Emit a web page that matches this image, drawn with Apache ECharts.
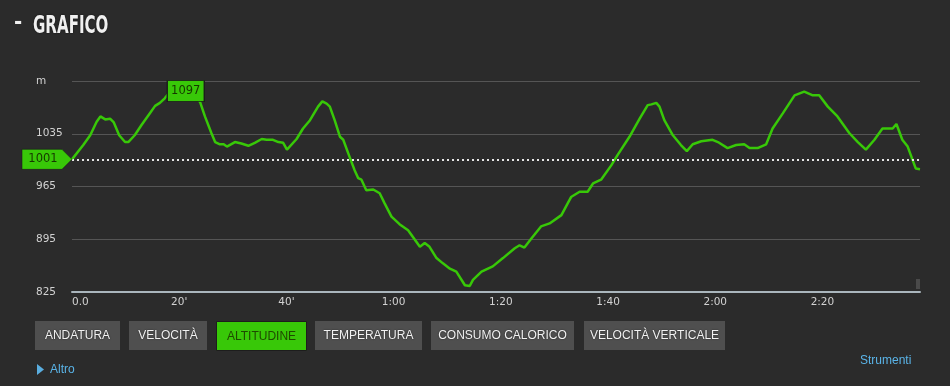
<!DOCTYPE html>
<html>
<head>
<meta charset="utf-8">
<script src="https://cdn.jsdelivr.net/npm/echarts@6/dist/echarts.min.js"></script>
<style>
html,body{margin:0;padding:0;background:#2b2b2b;}
#c{width:950px;height:386px;}
</style>
</head>
<body>
<div id="c"></div>
<script>
// Time (minutes) and altitude (m)
const minutes = [0,2.1,3.4,4.6,5.3,6.2,7.1,7.8,8.8,9.9,10.5,11.7,13.0,14.5,15.5,16.4,17.3,18.1,19.2,20.1,21.2,22.4,23.9,24.8,26.0,26.7,27.6,28.3,28.9,30.4,31.6,32.9,34.1,35.4,36.3,37.5,38.5,39.4,40.1,41.9,43.1,44.4,45.9,46.7,47.5,48.1,49.0,50.0,50.6,51.8,52.7,53.4,54.0,54.9,56.2,57.4,58.3,59.6,61.1,62.7,63.6,64.9,65.8,66.7,68.0,69.2,70.5,71.7,73.3,74.2,74.8,76.4,78.5,80.4,82.6,83.5,84.4,85.7,87.5,89.1,91.3,93.1,94.7,96.2,97.2,98.7,100.6,101.8,104.0,105.9,107.4,108.1,109.0,109.6,110.5,112.1,113.6,114.7,115.8,117.4,119.5,120.5,122.3,123.9,125.4,126.4,127.9,129.5,130.7,132.6,134.8,136.6,138.2,139.4,141.0,142.8,145.0,146.6,148.1,149.7,151.2,153.1,153.8,154.9,155.9,157.4,158.2];
const altitude = [1001,1020,1033,1051,1058,1054,1055,1050,1033,1024,1024,1033,1047,1062,1072,1076,1082,1089,1094,1097,1095,1090,1077,1058,1036,1024,1021,1021,1018,1024,1022,1019,1023,1028,1027,1027,1024,1023,1014,1028,1042,1053,1071,1078,1075,1071,1053,1031,1027,1004,987,976,974,960,961,956,943,925,915,907,898,885,890,885,870,863,856,852,834,833,841,852,859,870,883,887,884,896,912,916,927,951,958,958,969,974,993,1007,1031,1055,1073,1074,1076,1071,1053,1033,1020,1012,1021,1025,1027,1024,1016,1020,1021,1016,1016,1021,1042,1062,1086,1091,1086,1086,1071,1058,1036,1024,1014,1027,1042,1042,1048,1027,1018,989,988];
const startAltitude = 1001;
const maxAltitude = 1097;
const maxMinute = 20.1;
const yTicks = [825, 895, 965, 1035, 1105];
const xTickLabels = {0:'0.0',20:"20'",40:"40'",60:'1:00',80:'1:20',100:'1:40',120:'2:00',140:'2:20'};
const buttons = ['ANDATURA','VELOCITÀ','ALTITUDINE','TEMPERATURA','CONSUMO CALORICO','VELOCITÀ VERTICALE'];
const activeButton = 'ALTITUDINE';

const GREEN = '#38c808';
const chart = echarts.init(document.getElementById('c'), null, {renderer:'canvas'});

const btnX = [35,129,216,315,431,584];
const btnW = [85,78,90,107,143,141];
const graphics = [];
buttons.forEach((b,i)=>{
  const active = b === activeButton;
  graphics.push({
    type:'group', left:btnX[i], top:321,
    children:[
      {type:'rect', shape:{x:0,y:0,width:btnW[i],height:29},
       style:{fill: active ? GREEN : '#4f4f4f', stroke: active ? '#1d1d1d' : null, lineWidth: active?1:0}},
      {type:'text', x:btnW[i]/2, y:15,
       style:{text:b, fill: active ? '#1f4a00' : '#f2f2f2', font:'12px "Liberation Sans", Arial, sans-serif',
              align:'center', verticalAlign:'middle',
              textShadowColor: active ? 'transparent' : 'rgba(0,0,0,0.7)', textShadowBlur: active?0:1.5}}
    ]
  });
});
graphics.push(
  {type:'text', x:14, y:23, style:{text:'-', fill:'#f0f0f0', font:'bold 22px "DejaVu Sans Condensed", sans-serif', verticalAlign:'middle'}},
  {type:'text', x:33, y:26, scaleX:0.67, style:{text:'GRAFICO', fill:'#f0f0f0', font:'bold 25px "DejaVu Sans Condensed", sans-serif', verticalAlign:'middle',
     textShadowColor:'rgba(0,0,0,0.6)', textShadowBlur:2}},
  {type:'polygon', shape:{points:[[37,364],[44,369.5],[37,375]]}, style:{fill:'#5aaee0'}},
  {type:'text', x:50, y:370, style:{text:'Altro', fill:'#5ab4e8', font:'12px "Liberation Sans", Arial, sans-serif', verticalAlign:'middle'}},
  {type:'text', x:860, y:361, style:{text:'Strumenti', fill:'#5ab4e8', font:'12px "Liberation Sans", Arial, sans-serif', verticalAlign:'middle'}},
  {type:'rect', shape:{x:916,y:279,width:4,height:10}, style:{fill:'#4a4a4a'}}
);

chart.setOption({
  backgroundColor:'#2b2b2b',
  animation:false,
  grid:{left:72, right:30, top:81, bottom:94, containLabel:false},
  xAxis:{
    type:'value', min:0, max:158.2, interval:20,
    axisLine:{show:true, lineStyle:{color:'#aab6bd', width:2}},
    axisTick:{show:false},
    splitLine:{show:false},
    axisLabel:{color:'#d2d2d2', fontFamily:'"DejaVu Sans", sans-serif', fontSize:10.5, margin:5,
      showMaxLabel:false, alignMinLabel:'left',
      formatter:v=> xTickLabels[v] !== undefined ? xTickLabels[v] : ''}
  },
  yAxis:{
    type:'value', min:825, max:1105, interval:70,
    axisLine:{show:false}, axisTick:{show:false},
    splitLine:{show:true, lineStyle:{color:'#555555', width:1}},
    axisLabel:{color:'#d2d2d2', fontFamily:'"DejaVu Sans", sans-serif', fontSize:10.5, align:'left', margin:36,
      formatter:v=> v===1105 ? 'm' : (yTicks.includes(v) ? String(v) : '')}
  },
  series:[{
    type:'line',
    data: minutes.map((m,i)=>[m, altitude[i]]),
    showSymbol:false, symbol:'none',
    lineStyle:{color:GREEN, width:2.5},
    itemStyle:{color:GREEN},
    markLine:{
      silent:true, symbol:'none',
      label:{show:false},
      lineStyle:{color:'#e6e6e6', type:[2,3], width:2},
      data:[{yAxis:startAltitude}]
    },
    markPoint:{
      silent:true,
      data:[
        {coord:[maxMinute, maxAltitude], symbol:'rect', symbolSize:[37,21], symbolOffset:[6,4],
         itemStyle:{color:GREEN, borderColor:'#1a1a1a', borderWidth:1},
         label:{show:true, position:'inside', formatter:String(maxAltitude), color:'#163800',
                fontFamily:'"DejaVu Sans", sans-serif', fontSize:11.5}},
        {coord:[0, startAltitude], symbol:'path://M0,0 L40,0 L50,10 L40,20 L0,20 Z', symbolKeepAspect:false,
         symbolSize:[50,20], symbolOffset:[-25,0],
         itemStyle:{color:GREEN, borderColor:'#1a1a1a', borderWidth:0.5},
         label:{show:true, position:'inside', offset:[-4,0], formatter:String(startAltitude), color:'#163800',
                fontFamily:'"DejaVu Sans", sans-serif', fontSize:11.5}}
      ]
    }
  }],
  graphic: graphics
});
</script>
</body>
</html>
